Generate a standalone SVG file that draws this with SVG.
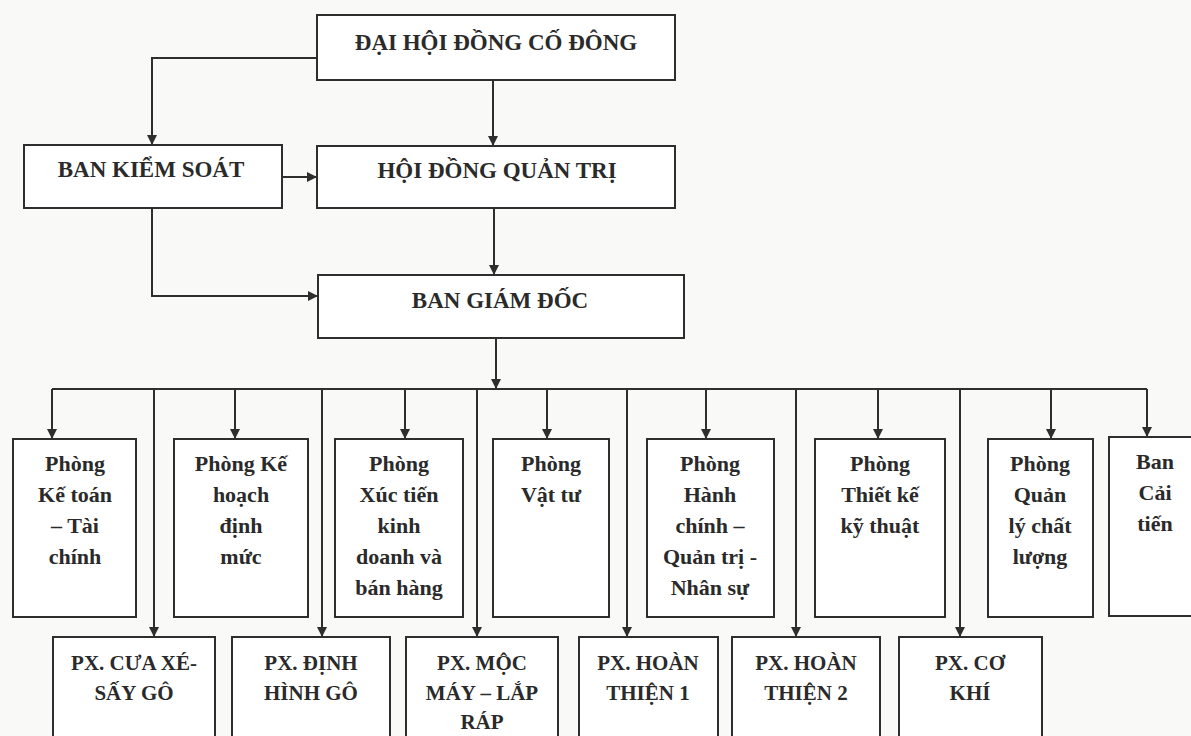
<svg xmlns="http://www.w3.org/2000/svg" width="1191" height="736" viewBox="0 0 1191 736">
<defs>
<marker id="ah" viewBox="0 0 10 10" refX="10" refY="5" markerWidth="12" markerHeight="10" markerUnits="userSpaceOnUse" orient="auto"><path d="M0,0 L10,5 L0,10 z" fill="#2e2e2e"/></marker>
<style>
.box{fill:#ffffff;stroke:#2e2e2e;stroke-width:2}
.ln{fill:none;stroke:#2e2e2e;stroke-width:2}
.ar{fill:none;stroke:#2e2e2e;stroke-width:2;marker-end:url(#ah)}
text{font-family:"Liberation Serif","Times New Roman",serif;font-weight:bold;fill:#2a2a2a;text-anchor:middle}
.h{font-size:23px}
.s{font-size:22px}
.p{font-size:21px}
</style>
</defs>
<rect x="0" y="0" width="1191" height="736" fill="#f9f9f8"/>
<g id="connectors">
<path class="ar" d="M317,58 H152 V145"/>
<path class="ar" d="M493,80 V146"/>
<path class="ar" d="M282,177 H317"/>
<path class="ar" d="M152,208 V296 H318"/>
<path class="ar" d="M494,208 V275"/>
<path class="ar" d="M496,338 V389"/>
<path class="ln" d="M52,389 H1147"/>
<path class="ar" d="M52,389 V439"/>
<path class="ar" d="M235,389 V439"/>
<path class="ar" d="M405,389 V439"/>
<path class="ar" d="M547,389 V439"/>
<path class="ar" d="M706,389 V439"/>
<path class="ar" d="M878,389 V439"/>
<path class="ar" d="M1051,389 V439"/>
<path class="ar" d="M1147,389 V437"/>
<path class="ar" d="M154,389 V637"/>
<path class="ar" d="M322,389 V637"/>
<path class="ar" d="M477,389 V637"/>
<path class="ar" d="M627,389 V637"/>
<path class="ar" d="M796,389 V637"/>
<path class="ar" d="M960,389 V637"/>
</g>
<g id="dhdcd"><rect class="box" x="317" y="15" width="358" height="65"/><text class="h" x="496" y="50">ĐẠI HỘI ĐỒNG CỐ ĐÔNG</text></g>
<g id="bks"><rect class="box" x="24" y="145" width="258" height="63"/><text class="h" x="151" y="177">BAN KIỂM SOÁT</text></g>
<g id="hdqt"><rect class="box" x="317" y="146" width="358" height="62"/><text class="h" x="497" y="178">HỘI ĐỒNG QUẢN TRỊ</text></g>
<g id="bgd"><rect class="box" x="318" y="275" width="366" height="63"/><text class="h" x="500" y="308">BAN GIÁM ĐỐC</text></g>

<g id="p-ketoan"><rect class="box" x="13" y="439" width="123" height="178"/>
<text class="s" x="75" y="471">Phòng</text><text class="s" x="75" y="502">Kế toán</text><text class="s" x="75" y="533">– Tài</text><text class="s" x="75" y="564">chính</text></g>
<g id="p-kehoach"><rect class="box" x="174" y="439" width="134" height="178"/>
<text class="s" x="241" y="471">Phòng Kế</text><text class="s" x="241" y="502">hoạch</text><text class="s" x="241" y="533">định</text><text class="s" x="241" y="564">mức</text></g>
<g id="p-xuctien"><rect class="box" x="335" y="439" width="128" height="178"/>
<text class="s" x="399" y="471">Phòng</text><text class="s" x="399" y="502">Xúc tiến</text><text class="s" x="399" y="533">kinh</text><text class="s" x="399" y="564">doanh và</text><text class="s" x="399" y="595">bán hàng</text></g>
<g id="p-vattu"><rect class="box" x="493" y="439" width="116" height="178"/>
<text class="s" x="551" y="471">Phòng</text><text class="s" x="551" y="502">Vật tư</text></g>
<g id="p-hanhchinh"><rect class="box" x="647" y="439" width="127" height="178"/>
<text class="s" x="710" y="471">Phòng</text><text class="s" x="710" y="502">Hành</text><text class="s" x="710" y="533">chính –</text><text class="s" x="710" y="564">Quản trị -</text><text class="s" x="710" y="595">Nhân sự</text></g>
<g id="p-thietke"><rect class="box" x="815" y="439" width="130" height="178"/>
<text class="s" x="880" y="471">Phòng</text><text class="s" x="880" y="502">Thiết kế</text><text class="s" x="880" y="533">kỹ thuật</text></g>
<g id="p-chatluong"><rect class="box" x="988" y="439" width="105" height="178"/>
<text class="s" x="1040" y="471">Phòng</text><text class="s" x="1040" y="502">Quản</text><text class="s" x="1040" y="533">lý chất</text><text class="s" x="1040" y="564">lượng</text></g>
<g id="b-caitien"><rect class="box" x="1109" y="437" width="90" height="179"/>
<text class="s" x="1155" y="469">Ban</text><text class="s" x="1155" y="500">Cải</text><text class="s" x="1155" y="531">tiến</text></g>

<g id="px-cua"><rect class="box" x="53" y="637" width="162" height="115"/>
<text class="p" x="134" y="670">PX. CƯA XÉ-</text><text class="p" x="134" y="700">SẤY GÔ</text></g>
<g id="px-dinhhinh"><rect class="box" x="232" y="637" width="158" height="115"/>
<text class="p" x="311" y="670">PX. ĐỊNH</text><text class="p" x="311" y="700">HÌNH GÔ</text></g>
<g id="px-moc"><rect class="box" x="406" y="637" width="152" height="115"/>
<text class="p" x="482" y="670">PX. MỘC</text><text class="p" x="482" y="700">MÁY – LẮP</text><text class="p" x="482" y="729">RÁP</text></g>
<g id="px-hoanthien1"><rect class="box" x="579" y="637" width="139" height="115"/>
<text class="p" x="648" y="670">PX. HOÀN</text><text class="p" x="648" y="700">THIỆN 1</text></g>
<g id="px-hoanthien2"><rect class="box" x="732" y="637" width="148" height="115"/>
<text class="p" x="806" y="670">PX. HOÀN</text><text class="p" x="806" y="700">THIỆN 2</text></g>
<g id="px-cokhi"><rect class="box" x="899" y="637" width="143" height="115"/>
<text class="p" x="970" y="670">PX. CƠ</text><text class="p" x="970" y="700">KHÍ</text></g>
</svg>
